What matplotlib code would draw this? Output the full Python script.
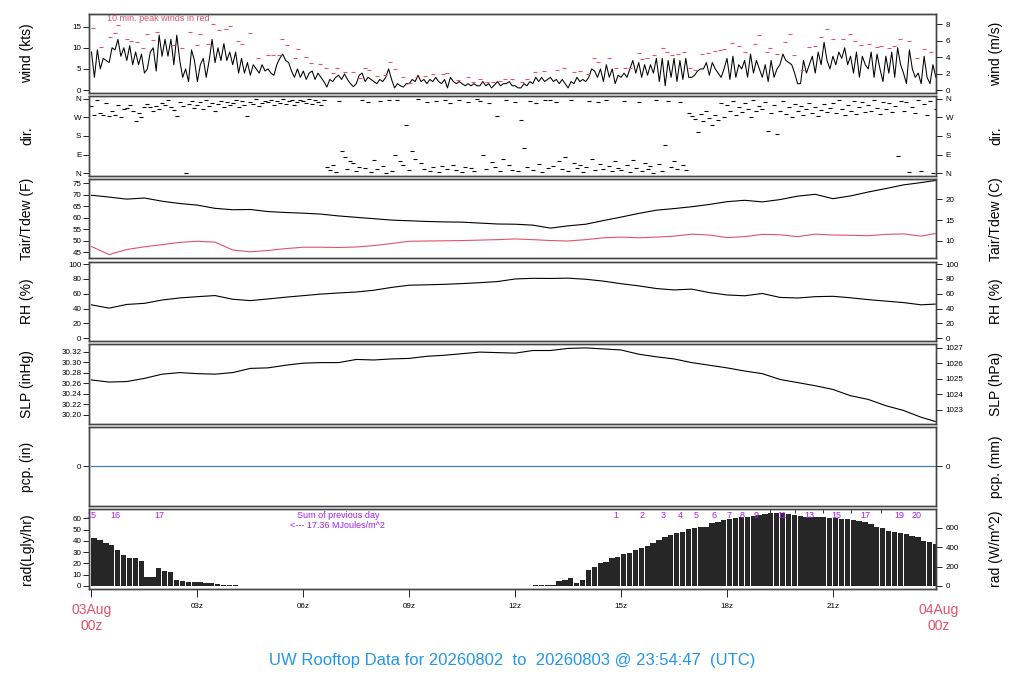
import numpy as np
import matplotlib.pyplot as plt
from matplotlib.transforms import blended_transform_factory

plt.rcParams['font.family'] = ['Liberation Sans', 'DejaVu Sans']

RED = '#DF536B'
BLUE = '#2297E6'
PURPLE = '#A020F0'

# ---- wind speed, 5 min samples (kts), one hour per row
wind_kts = [
    9, 3, 9.5, 5, 7.5, 7, 6.5, 10, 9.5, 12, 8, 10,
    7, 10.5, 6, 9, 6, 8.5, 4, 5, 9, 10, 4.5, 13,
    8, 12, 8, 12, 6, 13, 7, 3, 5, 2, 9.5, 7,
    2, 6, 7.5, 3, 7, 12, 6.5, 10, 7, 11, 7, 9,
    6, 9, 4, 7.5, 4, 6.5, 3.5, 6, 5, 4, 6, 4.5,
    5, 4, 3.5, 6, 7.5, 8.5, 7, 6.5, 4.5, 3, 5, 3,
    4.5, 2.5, 4, 4.5, 2.5, 4, 3, 2, 0.7, 2.5, 2, 3,
    3.5, 2.5, 3.8, 2.5, 1.5, 0.8, 1.5, 3.5, 4, 2, 3, 2.5,
    2, 1.5, 2.5, 2, 3, 5, 2.5, 0.5, 1.5, 1, 0.7, 1.5,
    1.5, 2.5, 2, 3.5, 2, 2.5, 1.5, 2.5, 2, 3, 2, 1.5,
    2.5, 0.5, 3, 2, 1.5, 2, 1.5, 1, 1.5, 1, 1.5, 1,
    1, 2, 1, 1.5, 0.5, 1.2, 2, 1, 1.5, 1.5, 2, 1,
    1, 0.5, 0.5, 1.5, 1, 2, 1.5, 3, 2, 3, 2, 2.5,
    3, 2, 2.5, 1.5, 2.5, 1.5, 0.5, 2, 1.5, 3, 2, 2.5,
    2, 3, 5, 4.5, 3, 5, 2, 6, 3, 5, 1.5, 3.5,
    3, 4, 3, 5, 7, 4, 6.5, 3, 6, 3.5, 6, 4,
    7.5, 2, 7.5, 1, 7, 3, 7.5, 2, 7, 2.5, 7.5, 3,
    3, 3.5, 4.5, 5, 5, 6.5, 3.5, 6.5, 5, 4, 3, 5,
    7.5, 2.5, 8, 3, 6, 5, 7, 3, 8.5, 4, 7, 5,
    3, 6, 2, 7, 3, 5, 6, 8.5, 7, 6.5, 6, 4,
    1.5, 1.5, 7, 4, 6, 8, 4, 9, 6, 11.3, 7, 5,
    8, 6, 9, 7.5, 10, 6, 8, 4, 9, 3, 8, 6,
    5, 9, 3, 8.5, 5, 2, 8, 4, 9, 3, 10, 6,
    4, 1.5, 9.5, 5, 3, 4, 1.5, 8, 3, 1.5, 6, 3,
]

# ---- wind direction, 5 min samples (deg)
wind_dir = [
    323, 282, 355, 290, 279, 340, 274, 300, 282, 330, 269, 310,
    315, 328, 300, 250, 290, 272, 320, 335, 318, 300, 322, 310,
    340, 330, 355, 318, 305, 275, 345, 325, 2, 335, 350, 315,
    330, 345, 310, 355, 325, 340, 300, 335, 350, 320, 345, 330,
    340, 355, 320, 348, 330, 275, 345, 335, 358, 325, 340, 350,
    345, 355, 330, 350, 340, 358, 335, 348, 352, 330, 345, 355,
    350, 340, 358, 335, 355, 345, 330, 352, 30, 15, 40, 5,
    350, 108, 80, 20, 60, 47, 10, 30, 355, 25, 345, 5,
    63, 20, 350, 35, 0, 352, 10, 88, 355, 60, 40, 233,
    15, 109, 70, 358, 47, 20, 345, 10, 28, 350, 5, 35,
    355, 20, 340, 40, 15, 352, 8, 30, 345, 25, 10, 358,
    350, 90, 20, 340, 55, 30, 274, 10, 70, 355, 40, 15,
    345, 10, 258, 120, 30, 350, 15, 340, 45, 5, 355, 25,
    352, 35, 345, 60, 20, 80, 10, 355, 50, 25, 40, 5,
    30, 350, 70, 15, 345, 45, 20, 355, 35, 10, 60, 25,
    15, 350, 40, 5, 65, 25, 345, 10, 50, 20, 35, 0,
    355, 45, 10, 134, 350, 30, 60, 20, 345, 40, 15, 290,
    275, 260, 201, 285, 250, 300, 265, 234, 280, 255, 340, 270,
    330, 300, 350, 280, 320, 295, 340, 310, 270, 355, 300, 325,
    310, 345, 206, 290, 330, 190, 300, 350, 285, 320, 270, 335,
    300, 325, 280, 310, 340, 290, 320, 275, 305, 335, 295, 315,
    340, 290, 355, 310, 280, 330, 300, 350, 285, 320, 345, 295,
    330, 300, 355, 315, 285, 345, 310, 340, 295, 325, 83, 350,
    300, 345, 5, 320, 290, 355, 10, 335, 280, 350, 3, 310,
]
t5 = np.arange(288) / 12.0

# ---- 10 min peak winds (kts)
peak_hours = [
    0.05, 0.27, 0.52, 0.67, 0.76, 1.00, 1.11, 1.28, 1.47, 1.57, 1.73, 1.85,
    2.32, 2.55, 2.79, 2.98, 3.07, 3.31, 3.45, 3.62, 3.81, 3.92, 4.16, 4.25,
    4.49, 4.72, 5.01, 5.13, 5.32, 5.41, 5.53, 5.76, 5.86, 6.09, 6.21, 6.47,
    6.64, 6.85, 6.96, 7.18, 7.40, 7.60, 7.75, 7.87, 8.08, 8.31, 8.45, 8.60,
    8.83, 9.02, 9.21, 9.44, 9.68, 9.96, 10.06, 10.39, 10.67, 10.81, 11.00,
    11.19, 11.38, 11.57, 11.71, 11.92, 12.19, 12.33, 12.55, 12.83, 13.18,
    13.39, 13.66, 13.84, 14.06, 14.22, 14.36, 14.66, 14.85, 15.12, 15.26,
    15.50, 15.59, 15.73, 15.92, 16.18, 16.30, 16.44, 16.60, 16.77, 16.96,
    17.10, 17.29, 17.45, 17.65, 17.81, 17.92, 18.14, 18.33, 18.52, 18.80,
    18.91, 19.13, 19.22, 19.41, 19.63, 19.79, 19.91, 20.12, 20.31, 20.48,
    20.67, 20.83, 20.99, 21.30, 21.49, 21.63, 21.80, 22.01, 22.25, 22.37,
    22.58, 22.72, 22.89, 23.16, 23.38, 23.59, 23.78,
]
peak_kts = [
    14.6, 10.1, 12.5, 13.4, 15.4, 12.1, 11.6, 11.3, 9.9, 13.2, 11.8, 13.8,
    10.7, 10.0, 13.7, 10.7, 13.2, 10.9, 15.6, 14.1, 14.4, 15.2, 11.7, 10.8,
    13.6, 7.7, 8.4, 8.4, 8.4, 12.0, 10.7, 7.7, 9.6, 7.9, 6.3, 6.1,
    5.1, 4.1, 5.1, 4.3, 4.3, 2.8, 5.1, 4.7, 3.3, 3.6, 6.6, 4.9,
    3.2, 1.6, 3.2, 3.3, 3.7, 3.8, 4.1, 2.4, 3.0, 2.0, 2.6,
    2.0, 2.0, 2.1, 2.6, 2.6, 1.8, 2.7, 4.2, 4.6, 4.7,
    5.1, 4.2, 4.5, 3.7, 7.5, 6.6, 7.7, 5.1, 5.3, 5.3,
    8.8, 7.3, 7.5, 8.3, 9.9, 8.9, 8.4, 8.5, 9.1, 5.3,
    4.7, 8.5, 8.8, 9.3, 9.5, 9.6, 11.1, 10.5, 8.9, 10.8,
    13.0, 8.9, 9.9, 8.6, 11.3, 13.2, 8.4, 4.7, 10.1, 10.4,
    12.5, 14.4, 12.2, 12.2, 13.2, 11.7, 10.7, 10.8, 10.3, 10.5,
    9.9, 10.5, 12.0, 11.7, 7.6, 9.6, 8.9,
]

# ---- half-hourly temperature, humidity, pressure
t_half = [i * 0.5 for i in range(48)] + [23.9]
tair_f = [
    69.8, 69.0, 68.1, 68.6, 67.2, 66.2, 65.5, 64.1, 63.5, 63.6, 62.7, 62.3,
    62.0, 61.6, 60.8, 60.2, 59.6, 59.0, 58.7, 58.4, 58.2, 58.1, 57.7, 57.3,
    57.2, 56.8, 55.5, 56.5, 57.2, 58.8, 60.3, 61.9, 63.3, 64.0, 64.8, 65.8,
    67.0, 67.6, 66.9, 67.9, 69.4, 70.2, 68.3, 69.5, 71.2, 72.7, 74.3, 75.3,
    76.2,
]
tdew_f = [
    47.5, 44.0, 46.2, 47.4, 48.3, 49.3, 49.8, 49.4, 46.0, 45.2, 45.8, 46.6,
    47.2, 47.2, 47.1, 47.3, 47.9, 48.8, 49.8, 49.9, 50.0, 50.1, 50.3, 50.5,
    50.8, 50.5, 50.1, 49.9, 50.5, 51.3, 51.6, 51.3, 51.6, 52.0, 52.9, 52.5,
    51.4, 51.8, 52.8, 52.6, 51.8, 52.9, 52.5, 52.4, 52.2, 52.8, 53.0, 52.0,
    53.2,
]
rh_pct = [
    45.0, 40.5, 45.5, 47.0, 51.5, 54.3, 56.0, 57.5, 52.5, 50.7, 52.9, 55.3,
    57.4, 59.5, 61.0, 62.3, 64.7, 68.5, 71.5, 72.0, 72.7, 73.7, 74.9, 76.4,
    79.9, 80.8, 80.6, 81.0, 79.5, 77.0, 73.5, 70.6, 67.0, 65.1, 66.2, 61.5,
    58.3, 57.2, 60.3, 55.0, 54.2, 56.0, 56.5, 54.5, 52.0, 50.0, 48.0, 45.0,
    46.0,
]
slp_inhg = [
    30.266, 30.262, 30.263, 30.269, 30.277, 30.280, 30.278, 30.277, 30.280,
    30.288, 30.289, 30.294, 30.298, 30.299, 30.299, 30.305, 30.304, 30.306,
    30.307, 30.311, 30.313, 30.316, 30.319, 30.318, 30.317, 30.322, 30.322,
    30.326, 30.327, 30.325, 30.323, 30.315, 30.310, 30.306, 30.299, 30.294,
    30.289, 30.283, 30.278, 30.267, 30.261, 30.255, 30.248, 30.236, 30.229,
    30.217, 30.208, 30.195, 30.187,
]

# ---- precipitation (in)
pcp_hours = [0, 6, 12, 18, 23.9]
pcp_in = [0.0, 0.0, 0.0, 0.0, 0.0]

# ---- solar radiation, 10 min bars (Langley/hr)
rad_ly = [
    42.5, 41, 38, 36, 32, 27,
    25, 24.5, 22, 8, 8, 16,
    13.5, 12.5, 5, 4, 3.5, 3.5,
    3.3, 2.7, 2.5, 1.8, 1.2, 0.6,
    0.5, 0.3, 0, 0, 0, 0,
    0, 0, 0, 0, 0, 0,
    0, 0, 0, 0, 0, 0,
    0, 0, 0, 0, 0, 0,
    0, 0, 0, 0, 0, 0,
    0, 0, 0, 0, 0, 0,
    0, 0, 0, 0, 0, 0,
    0, 0, 0, 0, 0, 0,
    0, 0, 0, 0.5, 0.5, 0.5,
    0.8, 4.5, 5.5, 7, 2.5, 5.5,
    14, 17, 20, 21.5, 24.5, 26,
    28, 29.5, 31.5, 33.5, 35.5, 38,
    41, 43.5, 45.5, 47, 48, 50.5,
    51.5, 52, 52.5, 56, 57, 58.5,
    59, 60, 61, 61.5, 62, 63,
    63.5, 64.5, 65, 64.5, 64, 63,
    62, 61.5, 61, 61, 61, 60.5,
    60, 59.5, 59, 58.5, 58, 57,
    55, 52, 51, 49, 48, 47,
    46, 44.5, 43, 40, 39, 37.5,
]
t10 = np.arange(144) / 6.0

# cumulative radiation markers (MJ/m^2)
cum_prev_labels = ['15', '16', '17']
cum_prev_hours = [0.01, 0.67, 1.91]
cum_labels = ['1', '2', '3', '4', '5', '6', '7', '8', '9', '11', '13', '15', '17', '19', '20']
cum_hours = [14.85, 15.59, 16.19, 16.69, 17.12, 17.63, 18.05, 18.42, 18.82,
             19.55, 20.32, 21.11, 21.93, 22.87, 23.38]
cum_even_hours = [19.21, 19.92, 20.72, 21.51, 22.36]

# ---------------------------------------------------------------
fig = plt.figure(figsize=(10.24, 7.0), dpi=100)
L, W = 89 / 1024, 847 / 1024
X0, X1 = -0.07, 23.92
PH = 79.6


def make_panel(i, ylim, lticks, lticklabels, rlim, rticks, rticklabels, llabel, rlabel):
    top = 13.7 + 82.6 * i
    ax = fig.add_axes([L, 1 - (top + PH) / 700, W, PH / 700])
    ax.set_xlim(X0, X1)
    ax.set_ylim(*ylim)
    ax.set_yticks(lticks)
    ax.set_yticklabels(lticklabels)
    ax.tick_params(axis='x', bottom=False, labelbottom=False)
    ax.tick_params(axis='y', labelsize=5.8, length=4, width=0.6, pad=1.5)
    ax2 = ax.twinx()
    ax2.set_ylim(*rlim)
    ax2.set_yticks(rticks)
    ax2.set_yticklabels(rticklabels)
    ax2.tick_params(axis='y', labelsize=5.8, length=4, width=0.6, pad=3)
    for a in (ax, ax2):
        for s in a.spines.values():
            s.set_color('#444444')
            s.set_linewidth(1.0)
    yc = 1 - (top + PH / 2) / 700
    fig.text(27 / 1024, yc, llabel, rotation=90, ha='center', va='center', fontsize=10)
    fig.text(996 / 1024, yc, rlabel, rotation=90, ha='center', va='center', fontsize=10)
    return ax


# wind speed
wl = (-0.78, 18.08)
ax = make_panel(0, wl, [0, 5, 10, 15], ['0', '5', '10', '15'],
                (wl[0] * 0.514444, wl[1] * 0.514444), [0, 2, 4, 6, 8],
                ['0', '2', '4', '6', '8'], 'wind (kts)', 'wind (m/s)')
ax.plot(t5, wind_kts, color='black', lw=0.75)
ax.plot(peak_hours, peak_kts, ls='none', marker='_', ms=3.5, mew=0.8, color=RED)
ax.text(0.44, 16.9, '10 min. peak winds in red', color=RED, fontsize=6.5, va='center')

# wind direction
dl = (-13, 371)
ax = make_panel(1, dl, [360, 270, 180, 90, 0], ['N', 'W', 'S', 'E', 'N'],
                dl, [360, 270, 180, 90, 0], ['N', 'W', 'S', 'E', 'N'], 'dir.', 'dir.')
ax.plot(t5, wind_dir, ls='none', marker='_', ms=3.5, mew=0.8, color='black')

# temperature / dew point
tl = (42.3, 76.9)
ax = make_panel(2, tl, [45, 50, 55, 60, 65, 70, 75], ['45', '50', '55', '60', '65', '70', '75'],
                ((tl[0] - 32) * 5 / 9, (tl[1] - 32) * 5 / 9), [10, 15, 20], ['10', '15', '20'],
                'Tair/Tdew (F)', 'Tair/Tdew (C)')
ax.plot(t_half, tair_f, color='black', lw=0.8)
ax.plot(t_half, tdew_f, color=RED, lw=0.8)

# relative humidity
rl = (-4, 103.5)
rh_t = [0, 20, 40, 60, 80, 100]
ax = make_panel(3, rl, rh_t, [str(v) for v in rh_t], rl, rh_t, [str(v) for v in rh_t],
                'RH (%)', 'RH (%)')
ax.plot(t_half, rh_pct, color='black', lw=0.8)

# sea level pressure
sl = (30.1828, 30.3342)
s_t = [30.20, 30.22, 30.24, 30.26, 30.28, 30.30, 30.32]
h_t = [1023, 1024, 1025, 1026, 1027]
ax = make_panel(4, sl, s_t, ['%.2f' % v for v in s_t],
                (sl[0] * 33.8639, sl[1] * 33.8639), h_t, [str(v) for v in h_t],
                'SLP (inHg)', 'SLP (hPa)')
ax.plot(t_half, slp_inhg, color='black', lw=0.8)

# precipitation
ax = make_panel(5, (-1, 1), [0], ['0'], (-1, 1), [0], ['0'], 'pcp. (in)', 'pcp. (mm)')
ax.plot(pcp_hours, pcp_in, color='#3B7CC4', lw=0.9)

# radiation
radl = (-2.66, 68.0)
ax = make_panel(6, radl, [0, 10, 20, 30, 40, 50, 60], ['0', '10', '20', '30', '40', '50', '60'],
                (radl[0] * 11.622, radl[1] * 11.622), [0, 200, 400, 600],
                ['0', '200', '400', '600'], 'rad(Lgly/hr)', 'rad (W/m^2)')
rad = np.array(rad_ly)
on = rad > 0
ax.bar(t10[on], rad[on], width=0.15, align='edge', color='#262626', linewidth=0)
for lab, h in zip(cum_prev_labels, cum_prev_hours):
    ax.text(h, 62.9, lab, color=PURPLE, fontsize=6.5, ha='center', va='center')
for lab, h in zip(cum_labels, cum_hours):
    ax.text(h, 62.9, lab, color=PURPLE, fontsize=6.5, ha='center', va='center')
ax.plot(cum_even_hours, [66.3] * len(cum_even_hours), ls='none', marker='|', ms=3,
        mew=0.7, color='#333333')
ax.text(6.98, 62.9, 'Sum of previous day', color=PURPLE, fontsize=6.5, ha='center', va='center')
ax.text(6.98, 53.5, '<--- 17.36 MJoules/m^2', color=PURPLE, fontsize=6.5, ha='center', va='center')

xt = [0, 3, 6, 9, 12, 15, 18, 21]
ax.set_xticks(xt)
ax.set_xticklabels([''] + ['%02dz' % h for h in xt[1:]])
ax.tick_params(axis='x', bottom=True, labelbottom=True, labelsize=5.8, length=6, width=0.6, pad=4)
tr = blended_transform_factory(ax.transData, ax.transAxes)
ax.text(0, -0.18, '03Aug\n00z', transform=tr, ha='center', va='top', color=RED,
        fontsize=10, clip_on=False)
ax.text(24, -0.18, '04Aug\n00z', transform=tr, ha='center', va='top', color=RED,
        fontsize=10, clip_on=False)

fig.text(0.5, 1 - 660 / 700, 'UW Rooftop Data for 20260802  to  20260803 @ 23:54:47  (UTC)',
         color=BLUE, fontsize=12, ha='center', va='center')

fig.savefig('out.png', dpi=100)
